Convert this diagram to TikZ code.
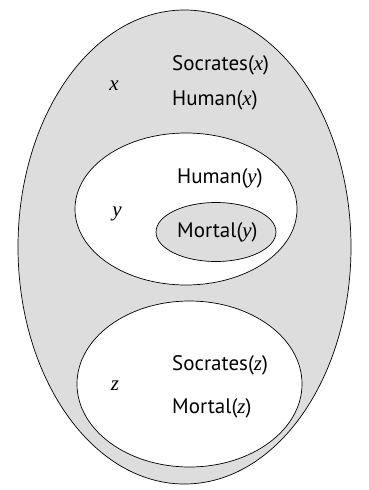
\documentclass[tikz,border=0pt]{standalone}
\usepackage{fontspec}
\setmainfont{PT Sans}
\newfontfamily\varfont{Liberation Serif}
\usepackage{tikz}
\usetikzlibrary{shapes,shapes.geometric,calc,positioning}

\definecolor{setgray}{HTML}{DDDDDD}
\newcommand{\var}[1]{{\varfont\itshape #1}}

\begin{document}
\begin{tikzpicture}[
    x=1pt, y=1pt,
    blob/.style  = {draw, ellipse, inner sep=0pt, line width=0.7pt},
    filled/.style = {blob, fill=setgray},
    empty/.style  = {blob, fill=white},
    pred/.style  = {anchor=west, inner sep=0pt, font=\fontsize{21}{24}\selectfont},
    vlbl/.style  = {inner sep=0pt, font=\fontsize{21}{24}\selectfont}
  ]

  \useasboundingbox (0,0) rectangle (369,-490);

  \node[filled, minimum width=333pt, minimum height=474pt] (U) at (184.5,-247) {};
  \node[empty,  minimum width=222pt, minimum height=152pt] (Y) at (186,-209) {};
  \node[filled, minimum width=120pt, minimum height=59pt]  (M) at (216,-232) {};
  \node[empty,  minimum width=225pt, minimum height=166pt] (Z) at (189.5,-384) {};

  % labels of x
  \node[vlbl] (x)  at (114,-86) {\var{x}};
  \node[pred] (Sx) at (172,-65) {Socrates(\var{x})};
  \node[pred] (Hx) at (172,-100) {Human(\var{x})};

  % labels of y
  \node[vlbl] (y)  at (117,-214) {\var{y}};
  \node[pred] (Hy) at (177,-178) {Human(\var{y})};
  \node[pred] (My) at (177,-232) {Mortal(\var{y})};

  % labels of z
  \node[vlbl] (z)  at (115,-386) {\var{z}};
  \node[pred] (Sz) at (172,-365) {Socrates(\var{z})};
  \node[pred] (Mz) at (172,-408) {Mortal(\var{z})};

\end{tikzpicture}
\end{document}
